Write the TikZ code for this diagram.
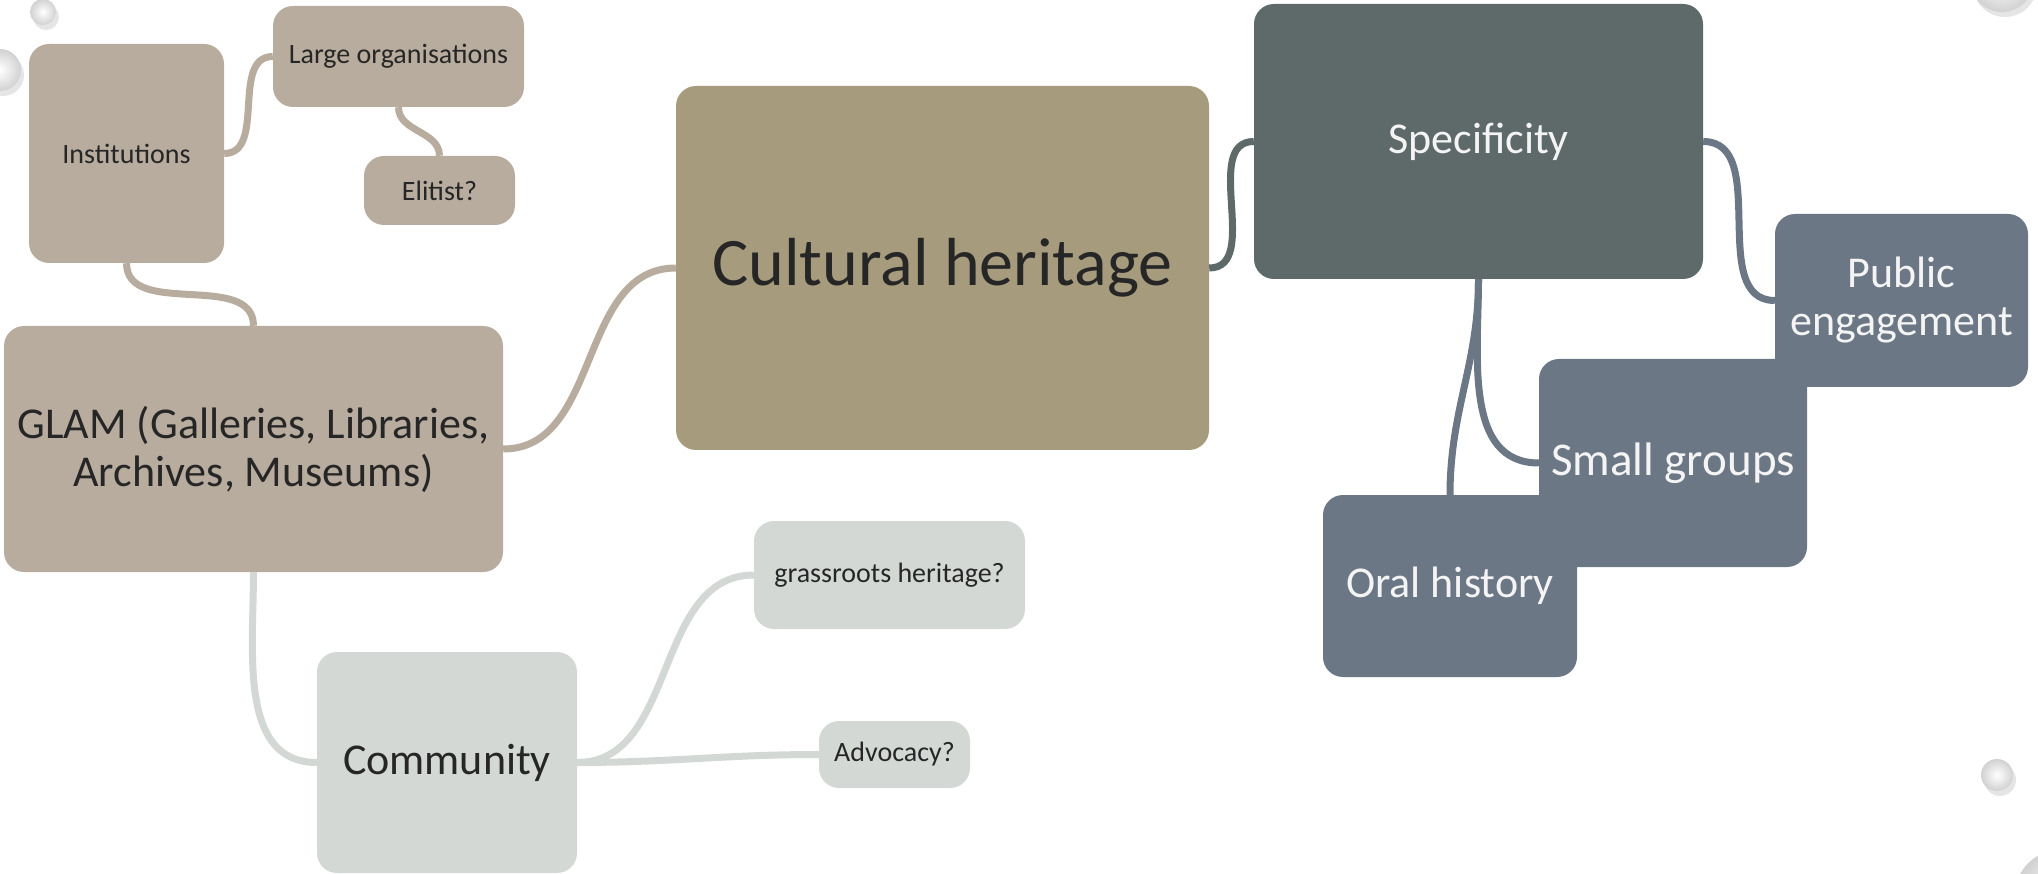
\documentclass[tikz,border=0pt]{standalone}
\usepackage{fontspec}
\setmainfont{Carlito}
\definecolor{glamcol}{HTML}{B8AC9E}
\definecolor{heritagecol}{HTML}{A69B7C}
\definecolor{speccol}{HTML}{5E6A69}
\definecolor{slatecol}{HTML}{6B7785}
\definecolor{commcol}{HTML}{D3D8D4}
\definecolor{textdark}{HTML}{262626}
\definecolor{textlight}{HTML}{F4F4F4}
\begin{document}
\begin{tikzpicture}[x=1pt,y=-1pt,
    box/.style={rectangle,rounded corners=20pt,align=center,inner sep=0pt,text=textdark},
    smalltext/.style={font=\fontsize{28}{32}\selectfont},
    midtext/.style={font=\fontsize{44}{48}\selectfont},
    bigtext/.style={font=\fontsize{68}{72}\selectfont},
    link/.style={line width=7pt},
    pin/.style={inner color=white,outer color=black!18}]
    \useasboundingbox (0,0) rectangle (2038,874);
    % pins on the board
    \foreach \px/\py/\pr in {43/12/13, 0/70/21, 2002/-20/32, 1997/775/16, 2060/895/45} {
        \fill[black!10] (\px+3,\py+5) circle (\pr);
        \shade[pin] (\px,\py) circle (\pr);
    }
    % left branch
    \node[box,fill=glamcol,minimum width=195pt,minimum height=219pt,smalltext] (inst) at (126.5,153.5) {Institutions};
    \node[box,fill=glamcol,minimum width=251pt,minimum height=101pt,smalltext] (large) at (398.5,56.5) {Large organisations};
    \node[box,fill=glamcol,minimum width=151pt,minimum height=69pt,smalltext] (elit) at (439.5,190.5) {Elitist?};
    \node[box,fill=glamcol,minimum width=499pt,minimum height=246pt,midtext] (glam) at (253.5,449) {GLAM (Galleries, Libraries,\\Archives, Museums)};
    \node[box,fill=commcol,minimum width=260pt,minimum height=221pt,midtext] (comm) at (447,762.5) {Community};
    \node[box,fill=commcol,minimum width=271pt,minimum height=108pt,smalltext] (grass) at (889.5,575) {grassroots heritage?};
    \node[box,fill=commcol,minimum width=151pt,minimum height=67pt,smalltext] (advo) at (894.5,754.5) {Advocacy?};
    % centre
    \node[box,fill=heritagecol,minimum width=533pt,minimum height=364pt,bigtext] (herit) at (942.5,268) {Cultural heritage};
    % right branch
    \node[box,fill=speccol,text=textlight,minimum width=449pt,minimum height=275pt,midtext] (spec) at (1478.5,141.5) {Specificity};
    \node[box,fill=slatecol,text=textlight,minimum width=253pt,minimum height=173pt,midtext] (pub) at (1901.5,300.5) {Public\\engagement};
    \node[box,fill=slatecol,text=textlight,minimum width=268pt,minimum height=208pt,font=\fontsize{47}{52}\selectfont] (small) at (1673,463) {Small groups};
    \node[box,fill=slatecol,text=textlight,minimum width=254pt,minimum height=182pt,midtext] (oral) at (1450,586) {Oral history};
    % connectors
    \draw[link,glamcol] (inst.south) to[out=-90,in=90] (glam.north);
    \draw[link,glamcol] (inst.east) to[out=0,in=180] (large.west);
    \draw[link,glamcol] (large.south) to[out=-90,in=90] (elit.north);
    \draw[link,glamcol] (glam.east) to[out=0,in=180] (herit.west);
    \draw[link,commcol] (glam.south) to[out=-90,in=180] (comm.west);
    \draw[link,commcol] (comm.east) to[out=0,in=180] (grass.west);
    \draw[link,commcol] (comm.east) to[out=0,in=180] (advo.west);
    \draw[link,speccol] (herit.east) to[out=0,in=180] (spec.west);
    \draw[link,slatecol] (spec.east) to[out=0,in=180] (pub.west);
    \draw[link,slatecol] (spec.south) to[out=-90,in=180] (small.west);
    \draw[link,slatecol] (spec.south) to[out=-90,in=90] (oral.north);
\end{tikzpicture}
\end{document}
